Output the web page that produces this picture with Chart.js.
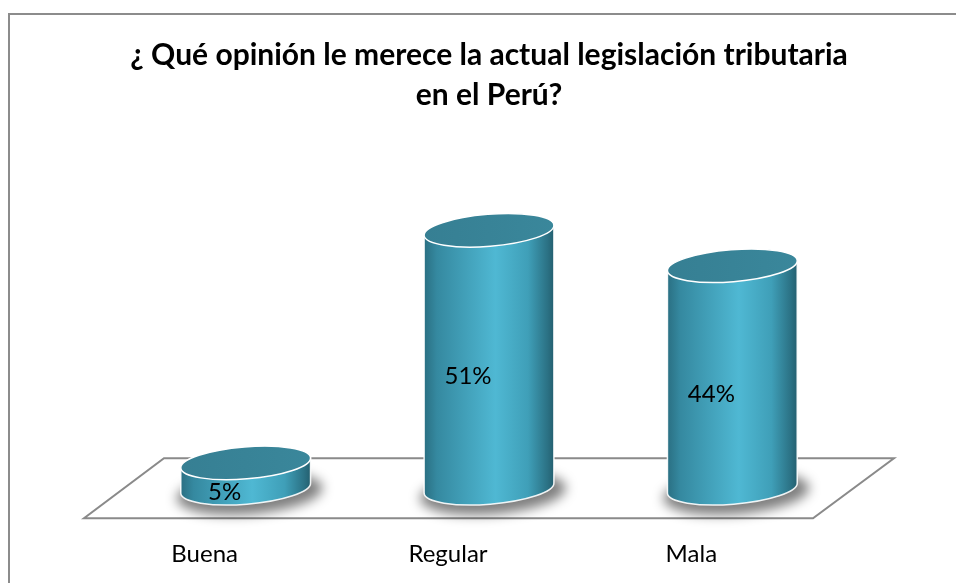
<!DOCTYPE html>
<html lang="es">
<head>
    <meta charset="UTF-8">
    <title>Legislación tributaria</title>
    <script src="https://cdn.jsdelivr.net/npm/chart.js@4.4.1/dist/chart.umd.min.js"></script>
    <style>
        body { margin: 0; background: #fff; }
        .wrap { width: 956px; height: 583px; position: relative; }
    </style>
</head>
<body>
    <div class="wrap"><canvas id="chart"></canvas></div>
    <script>
        const categories = ["Buena", "Regular", "Mala"];
        const values = [5, 51, 44];
        const valueLabels = ["5%", "51%", "44%"];
        const titleLines = ["¿ Qué opinión le merece la actual legislación tributaria", "en el Perú?"];

        // frame around the chart (cut by the window on right and bottom)
        const framePlugin = {
            id: "frame",
            beforeDraw(chart) {
                const ctx = chart.ctx;
                ctx.save();
                ctx.fillStyle = "#fff";
                ctx.fillRect(0, 0, chart.width, chart.height);
                ctx.strokeStyle = "#8c8c8c";
                ctx.lineWidth = 2;
                ctx.beginPath();
                ctx.moveTo(9, chart.height + 5);
                ctx.lineTo(9, 14);
                ctx.lineTo(chart.width + 5, 14);
                ctx.stroke();
                ctx.restore();
            }
        };

        // 3d floor + cylinders drawn from the bar elements
        const cylinderPlugin = {
            id: "cylinders",
            beforeDatasetsDraw(chart) {
                const a = chart.chartArea;
                const ctx = chart.ctx;
                const base = a.bottom;
                ctx.save();
                ctx.strokeStyle = "#8a8a8a";
                ctx.lineWidth = 2;
                ctx.beginPath();
                ctx.moveTo(a.left + 40, base - 30);
                ctx.lineTo(a.right + 40, base - 30);
                ctx.lineTo(a.right - 41, base + 30);
                ctx.lineTo(a.left - 40, base + 30);
                ctx.closePath();
                ctx.stroke();
                ctx.restore();
            },
            beforeDatasetDraw(chart, args) {
                const ctx = chart.ctx;
                const meta = args.meta;
                const rot = -0.08;
                const ry = 16;
                meta.data.forEach((el, i) => {
                    const cx = el.x, rx = el.width / 2, top = el.y, base = el.base;
                    ctx.save();
                    // shadow
                    ctx.filter = "blur(6px)";
                    ctx.fillStyle = "rgba(0,0,0,0.5)";
                    ctx.beginPath();
                    ctx.ellipse(cx + 4, base + 5, rx + 8, ry + 5, rot, 0, Math.PI * 2);
                    ctx.fill();
                    ctx.filter = "none";
                    // body
                    const g = ctx.createLinearGradient(cx - rx, 0, cx + rx, 0);
                    g.addColorStop(0, "#2a6f82");
                    g.addColorStop(0.1, "#3589a0");
                    g.addColorStop(0.55, "#4fb8d3");
                    g.addColorStop(0.8, "#3f9fb8");
                    g.addColorStop(0.95, "#2b7184");
                    g.addColorStop(1, "#245f6f");
                    ctx.beginPath();
                    ctx.ellipse(cx, base, rx, ry, rot, 0, Math.PI);
                    ctx.ellipse(cx, top, rx, ry, rot, Math.PI, Math.PI * 2);
                    ctx.closePath();
                    ctx.fillStyle = g;
                    ctx.fill();
                    ctx.strokeStyle = "rgba(255,255,255,0.9)";
                    ctx.lineWidth = 1.5;
                    ctx.stroke();
                    // top cap
                    const tg = ctx.createLinearGradient(cx - rx, 0, cx + rx, 0);
                    tg.addColorStop(0, "#367f93");
                    tg.addColorStop(1, "#3a879b");
                    ctx.beginPath();
                    ctx.ellipse(cx, top, rx, ry, rot, 0, Math.PI * 2);
                    ctx.fillStyle = tg;
                    ctx.fill();
                    ctx.strokeStyle = "#ffffff";
                    ctx.lineWidth = 1.5;
                    ctx.stroke();
                    // value label
                    ctx.fillStyle = "#000";
                    ctx.font = "24px Lato";
                    ctx.textAlign = "center";
                    ctx.textBaseline = "middle";
                    ctx.fillText(valueLabels[i], cx - 21, (top + base) / 2 + 17);
                    ctx.restore();
                });
                return false;
            }
        };

        new Chart("chart", {
            type: "bar",
            data: {
                labels: categories,
                datasets: [{
                    data: values,
                    backgroundColor: "#4bacc6",
                    barPercentage: 0.535,
                    categoryPercentage: 1
                }]
            },
            options: {
                responsive: true,
                maintainAspectRatio: false,
                animation: false,
                layout: {padding: {left: 124, right: 102, top: 15, bottom: -38}},
                plugins: {
                    legend: {display: false},
                    tooltip: {enabled: false},
                    title: {
                        display: true,
                        text: titleLines,
                        color: "#000",
                        font: {family: "Lato", size: 30, weight: "bold", lineHeight: 1.33},
                        padding: {top: 20, bottom: 70}
                    }
                },
                scales: {
                    x: {
                        grid: {display: false, drawTicks: false, tickLength: 0},
                        border: {display: false},
                        ticks: {
                            color: "#000",
                            font: {family: "Lato", size: 24},
                            padding: 52,
                            labelOffset: -41
                        }
                    },
                    y: {display: false, min: 0, max: 60}
                }
            },
            plugins: [framePlugin, cylinderPlugin]
        });
    </script>
</body>
</html>
